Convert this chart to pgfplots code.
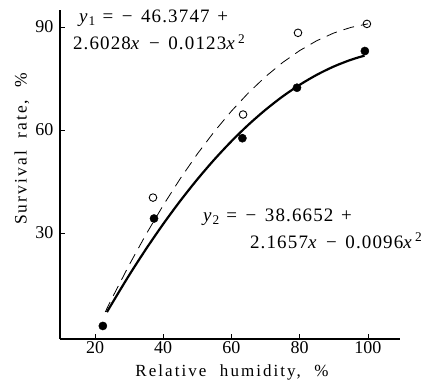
\documentclass[border=0pt]{standalone}
\usepackage{pgfplots}
\pgfplotsset{compat=1.18}
\usepackage{fontspec}
\setmainfont{Liberation Serif}
\newfontfamily\eqfont[LetterSpace=6]{Liberation Serif}
\newfontfamily\labfont[LetterSpace=12]{Liberation Serif}
\newcommand{\mn}{\hspace{0.45em}−\hspace{0.45em}}
\begin{document}
\begin{tikzpicture}
\begin{axis}[
  scale only axis,
  width=340pt, height=329pt,
  xmin=9.74, xmax=109.4, ymin=-0.9, ymax=94.95,
  axis x line*=bottom, axis y line*=left,
  xtick={20,40,60,80,100}, ytick={30,60,90},
  tick align=inside, major tick length=5pt,
  tick style={black, line width=0.8pt},
  axis line style={line width=1.1pt},
  /pgf/number format/assume math mode=true,
  ticklabel style={font=\fontsize{18}{20}\selectfont},
  xticklabel style={yshift=1pt},
  yticklabel style={xshift=-3pt},
  xlabel={Relative\hspace{0.8em}humidity,\hspace{0.8em}\%},
  ylabel={Survival\hspace{0.7em}rate,\hspace{0.7em}\%},
  every axis x label/.style={at={(axis description cs:0.506,0)}, anchor=base, yshift=-37pt, font=\labfont\fontsize{17}{19}\selectfont},
  every axis y label/.style={at={(axis description cs:-0.112,0.578)}, anchor=center, rotate=90, font=\labfont\fontsize{17.5}{19}\selectfont},
  clip=false,
]
% fitted curve y1 (dashed)
\addplot[black, line width=0.8pt, dash pattern=on 11pt off 7pt] coordinates {
 (23,6.98) (25,11.01) (30,20.64) (35,29.66) (40,38.06) (45,45.84) (50,53.02)
 (55,59.57) (60,65.51) (65,70.84) (70,75.55) (75,79.65) (80,83.13) (85,86.00)
 (90,88.25) (95,89.88) (100,90.91)};
% fitted curve y2 (solid)
\addplot[black, line width=2.2pt, smooth] coordinates {
 (23.5,6.93) (25,9.48) (30,17.67) (35,25.37) (40,32.60) (45,39.35) (50,45.62)
 (55,51.41) (60,56.72) (65,61.55) (70,65.89) (75,69.76) (80,73.15) (85,76.06)
 (90,78.49) (95,80.44) (99,81.65)};
% open circles
\addplot[only marks, mark=o, mark size=3.8pt, mark options={line width=0.9pt, fill=white}] coordinates {
 (37.0,40.3) (63.4,64.5) (79.5,88.3) (99.7,90.9)};
% filled circles
\addplot[only marks, mark=*, mark size=4.1pt, fill=black] coordinates {
 (22.3,2.9) (37.3,34.2) (63.2,57.6) (79.2,72.3) (99.1,83.0)};
\node[anchor=base west, font=\eqfont\fontsize{19}{21}\selectfont, inner sep=0pt] at (axis cs:15.3,91.2)
  {\textit{y}\textsubscript{1}\hspace{0.35em}=\mn 46.3747\hspace{0.4em}+};
\node[anchor=base west, font=\eqfont\fontsize{19}{21}\selectfont, inner sep=0pt] at (axis cs:13.5,83.3)
  {2.6028\textit{x}\mn 0.0123\textit{x}\textsuperscript{\,2}};
\node[anchor=base west, font=\eqfont\fontsize{19}{21}\selectfont, inner sep=0pt] at (axis cs:51.6,33.2)
  {\textit{y}\textsubscript{2}\hspace{0.35em}=\mn 38.6652\hspace{0.4em}+};
\node[anchor=base west, font=\eqfont\fontsize{19}{21}\selectfont, inner sep=0pt] at (axis cs:65.4,25.6)
  {2.1657\textit{x}\mn 0.0096\textit{x}\textsuperscript{\,2}};
\end{axis}
\path (current axis.south west) ++(-60pt,-44pt) coordinate (bbA);
\path (current axis.north east) ++(36pt,10pt) coordinate (bbB);
\path (bbA) rectangle (bbB);
\end{tikzpicture}
\end{document}
